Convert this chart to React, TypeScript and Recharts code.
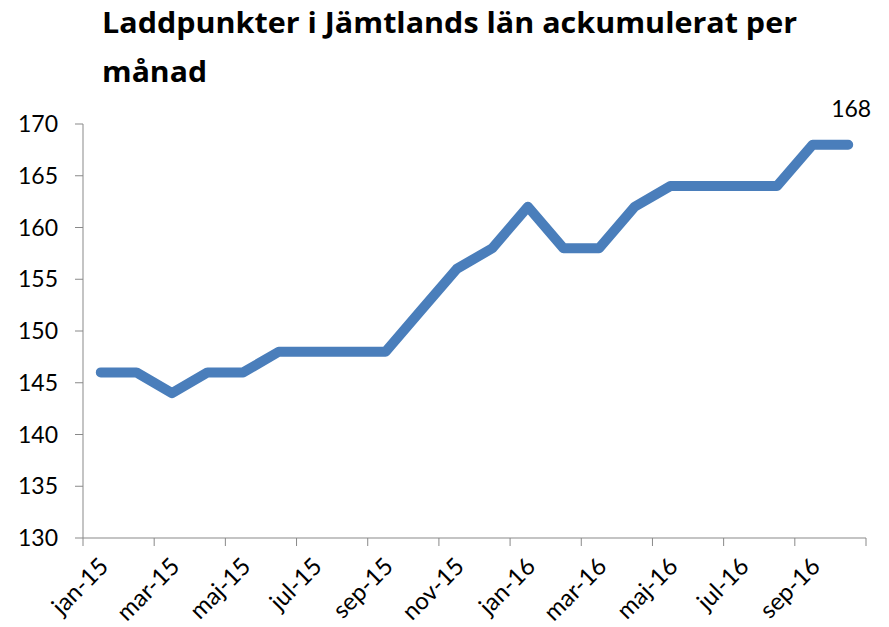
import { LineChart, Line, XAxis, YAxis, LabelList } from "recharts";

const months = [
  "jan-15", "feb-15", "mar-15", "apr-15", "maj-15", "jun-15",
  "jul-15", "aug-15", "sep-15", "okt-15", "nov-15", "dec-15",
  "jan-16", "feb-16", "mar-16", "apr-16", "maj-16", "jun-16",
  "jul-16", "aug-16", "sep-16", "okt-16",
];
const laddpunkter = [
  146, 146, 144, 146, 146, 148, 148, 148, 148, 152, 156, 158,
  162, 158, 158, 162, 164, 164, 164, 164, 168, 168,
];
const yTicks = [130, 135, 140, 145, 150, 155, 160, 165, 170];

const data = months.map((m, i) => ({ month: m, value: laddpunkter[i] }));

const W = 889;
const H = 627;
const plotLeft = 83;
const plotRight = 866;
const plotTop = 124;
const plotBottom = 538;
const step = (plotRight - plotLeft) / months.length;
const axisColor = "#898989";
const font = "Lato, 'Noto Sans', sans-serif";
const titleFont = "'Open Sans', Lato, sans-serif";

function MonthTick(props: any) {
  const { x, y, payload } = props;
  const idx = months.indexOf(payload.value);
  const top = y - 8;
  const ax = x + 9;
  const ay = y + 22;
  return (
    <g>
      <line x1={x - step / 2} y1={top} x2={x - step / 2} y2={top + 8} stroke={axisColor} />
      {idx === months.length - 2 && (
        <line x1={x + step * 1.5} y1={top} x2={x + step * 1.5} y2={top + 8} stroke={axisColor} />
      )}
      <text
        x={ax}
        y={ay}
        textAnchor="end"
        fontSize={24}
        fontFamily={font}
        fill="#000"
        transform={`rotate(-45 ${ax} ${ay})`}
      >
        {payload.value}
      </text>
    </g>
  );
}

function LastLabel(props: any) {
  const { x, y, value, index } = props;
  if (index !== data.length - 1) return null;
  return (
    <text x={x + 3} y={y - 28} textAnchor="middle" fontSize={23} fontFamily={font} fill="#000">
      {value}
    </text>
  );
}

export default function App() {
  return (
    <div style={{ position: "absolute", left: 0, top: 0, width: W, height: H, background: "#fff" }}>
      <svg width={W} height={100} style={{ position: "absolute", left: 0, top: 0 }}>
        <text x={102} y={33} fontSize={29} fontWeight="bold" fontFamily={titleFont} fill="#000"
          textLength={695} lengthAdjust="spacingAndGlyphs">
          Laddpunkter i Jämtlands län ackumulerat per
        </text>
        <text x={102} y={82} fontSize={29} fontWeight="bold" fontFamily={titleFont} fill="#000"
          textLength={105} lengthAdjust="spacingAndGlyphs">
          månad
        </text>
      </svg>
      <div style={{ position: "absolute", left: 0, top: 0 }}>
        <LineChart
          width={W}
          height={H}
          data={data}
          margin={{ top: plotTop, right: W - plotRight, bottom: 0, left: 0 }}
        >
          <XAxis
            dataKey="month"
            interval={1}
            padding={{ left: step / 2, right: step / 2 }}
            tickLine={false}
            tickSize={8}
            tickMargin={0}
            axisLine={{ stroke: axisColor }}
            tick={<MonthTick />}
            height={H - plotBottom}
          />
          <YAxis
            domain={[130, 170]}
            ticks={yTicks}
            width={plotLeft}
            tickSize={8}
            tickMargin={17}
            axisLine={{ stroke: axisColor }}
            tickLine={{ stroke: axisColor }}
            tick={{ fontSize: 23, fontFamily: font, fill: "#000" }}
            interval={0}
          />
          <Line
            dataKey="value"
            type="linear"
            stroke="#4A7EBB"
            strokeWidth={10}
            strokeLinecap="round"
            strokeLinejoin="round"
            dot={false}
            isAnimationActive={false}
          >
            <LabelList dataKey="value" content={<LastLabel />} />
          </Line>
        </LineChart>
      </div>
    </div>
  );
}
